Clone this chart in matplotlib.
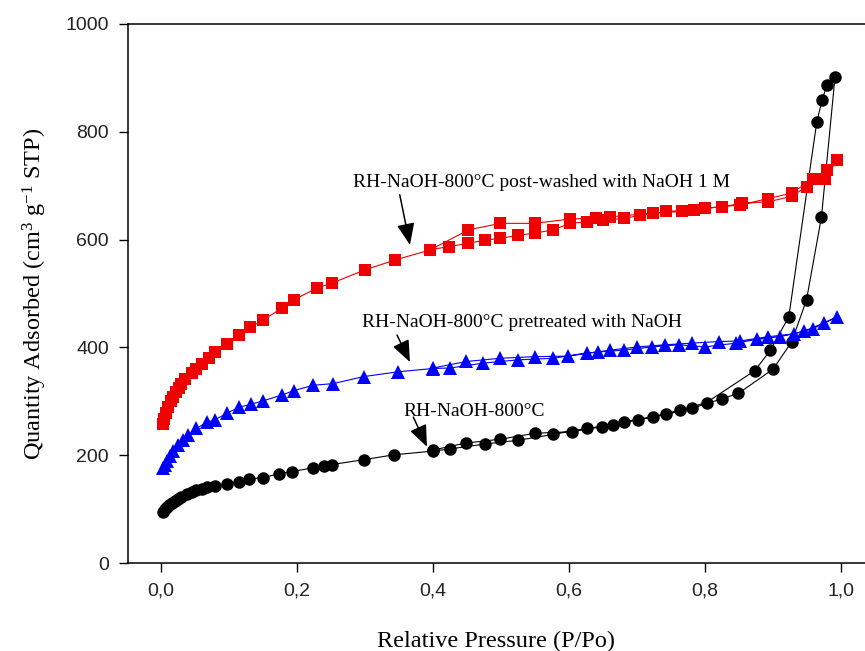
import numpy as np
import matplotlib
matplotlib.use("Agg")
import matplotlib.pyplot as plt

# Isotherm data (relative pressure, quantity adsorbed)
# RH-NaOH-800°C (black circles)
black_ads_p = [0.003, 0.006, 0.009, 0.012, 0.016, 0.020, 0.025, 0.030, 0.038, 0.045, 0.052,
               0.060, 0.067, 0.079, 0.097, 0.114, 0.130, 0.150, 0.174, 0.192, 0.224, 0.239,
               0.251, 0.298, 0.342, 0.400, 0.425, 0.476, 0.525, 0.577, 0.626, 0.665, 0.702,
               0.743, 0.780, 0.825, 0.849, 0.900, 0.927, 0.949, 0.971, 0.991]
black_ads_q = [95, 100, 104, 108, 112, 116, 120, 123, 128, 132, 135,
               138, 141, 143, 147, 151, 156, 159, 166, 170, 177, 180,
               183, 192, 201, 208, 212, 221, 228, 239, 250, 257, 266,
               276, 287, 305, 315, 360, 410, 488, 642, 902]
black_des_p = [0.979, 0.972, 0.964, 0.923, 0.896, 0.873, 0.802, 0.763, 0.724, 0.680,
               0.648, 0.604, 0.550, 0.499, 0.449, 0.400]
black_des_q = [886, 859, 817, 457, 395, 357, 298, 284, 272, 262,
               253, 244, 241, 230, 223, 210]

# RH-NaOH-800°C pretreated with NaOH (blue triangles)
blue_ads_p = [0.003, 0.006, 0.009, 0.013, 0.018, 0.025, 0.032, 0.040, 0.052, 0.067, 0.079,
              0.097, 0.114, 0.133, 0.150, 0.178, 0.195, 0.224, 0.253, 0.298, 0.349, 0.400,
              0.425, 0.474, 0.525, 0.577, 0.626, 0.680, 0.722, 0.761, 0.800, 0.845, 0.876,
              0.910, 0.945, 0.974, 0.994]
blue_ads_q = [176, 183, 190, 198, 208, 219, 228, 238, 250, 261, 266,
              278, 289, 295, 301, 312, 320, 330, 333, 346, 355, 361,
              362, 371, 377, 380, 390, 395, 401, 405, 401, 408, 415,
              420, 430, 445, 457]
blue_des_p = [0.959, 0.930, 0.893, 0.851, 0.820, 0.780, 0.741, 0.700, 0.660, 0.643,
              0.599, 0.550, 0.499, 0.449, 0.400]
blue_des_q = [435, 425, 420, 412, 411, 408, 405, 401, 395, 392,
              384, 383, 380, 374, 362]

# RH-NaOH-800°C post-washed with NaOH 1 M (red squares)
red_ads_p = [0.003, 0.005, 0.008, 0.011, 0.014, 0.018, 0.022, 0.026, 0.030, 0.036, 0.045,
             0.052, 0.060, 0.070, 0.079, 0.097, 0.114, 0.131, 0.150, 0.178, 0.195, 0.229,
             0.251, 0.300, 0.344, 0.396, 0.423, 0.452, 0.476, 0.499, 0.525, 0.550, 0.577,
             0.601, 0.626, 0.650, 0.680, 0.704, 0.743, 0.783, 0.825, 0.854, 0.893, 0.927,
             0.949, 0.976, 0.994]
red_ads_q = [258, 268, 278, 290, 300, 309, 318, 325, 332, 342, 352,
             360, 370, 381, 391, 407, 423, 437, 451, 473, 488, 510,
             519, 544, 562, 581, 587, 593, 599, 602, 608, 612, 618,
             630, 633, 636, 639, 645, 652, 655, 661, 667, 670, 680,
             698, 713, 747]
red_des_p = [0.979, 0.959, 0.927, 0.893, 0.851, 0.800, 0.766, 0.724, 0.660, 0.640,
             0.601, 0.550, 0.499, 0.452, 0.396]
red_des_q = [729, 713, 686, 676, 664, 658, 652, 649, 642, 640,
             638, 630, 630, 618, 581]

x_ticks = [0.0, 0.2, 0.4, 0.6, 0.8, 1.0]
x_tick_labels = ['0,0', '0,2', '0,4', '0,6', '0,8', '1,0']
y_ticks = [0, 200, 400, 600, 800, 1000]

plt.rcParams['mathtext.fontset'] = 'custom'
plt.rcParams['mathtext.rm'] = 'Liberation Serif'
plt.rcParams['mathtext.it'] = 'Liberation Serif'

fig = plt.figure(figsize=(8.65, 6.51), dpi=100)
ax = fig.add_axes([0.1476, 0.1347, 0.8524, 0.8289])

series = [
    (black_ads_p + black_des_p, black_ads_q + black_des_q, 'black', 'o', 9),
    (blue_ads_p + blue_des_p, blue_ads_q + blue_des_q, '#0000ff', '^', 9.5),
    (red_ads_p + red_des_p, red_ads_q + red_des_q, '#f00000', 's', 8.8),
]
for p, q, col, mk, ms in series:
    ax.plot(p, q, color=col, marker=mk, markersize=ms, markeredgewidth=0,
            linestyle='-', linewidth=0.8)

ax.set_xlim(-0.049, 1.035)
ax.set_ylim(0, 1000)
ax.set_xticks(x_ticks)
ax.set_xticklabels(x_tick_labels)
ax.set_yticks(y_ticks)
ax.spines['right'].set_visible(False)
for s in ['left', 'top', 'bottom']:
    ax.spines[s].set_linewidth(1.1)
ax.tick_params(direction='out', length=6.5, width=1.0, pad=7,
               labelsize=14, labelcolor='#222222')
for lab in ax.get_xticklabels() + ax.get_yticklabels():
    lab.set_fontfamily('Liberation Sans')

ax.set_xlabel('Relative Pressure (P/Po)', fontfamily='Liberation Serif',
              fontsize=17.5, labelpad=23)
ax.set_ylabel(r'Quantity Adsorbed (cm$^{3}$ g$^{-1}$ STP)', fontfamily='Liberation Serif',
              fontsize=17.5, labelpad=12)

# Annotations
arrow = dict(arrowstyle='-|>,head_length=1.1,head_width=0.45', color='black',
             lw=1.1, mutation_scale=12, shrinkA=0, shrinkB=0)
labels = [
    ('RH-NaOH-800°C post-washed with NaOH 1 M', (0.559, 705), (0.351, 683), (0.366, 590)),
    ('RH-NaOH-800°C pretreated with NaOH', (0.530, 447), (0.347, 423), (0.366, 373)),
    ('RH-NaOH-800°C', (0.460, 282), (0.371, 271), (0.391, 216)),
]
for txt, pos, tail, tip in labels:
    ax.text(pos[0], pos[1], txt, fontfamily='Liberation Serif', fontsize=14,
            ha='center', va='center')
    ax.annotate('', xy=tip, xytext=tail, arrowprops=arrow)

fig.savefig('out.png', dpi=100)
